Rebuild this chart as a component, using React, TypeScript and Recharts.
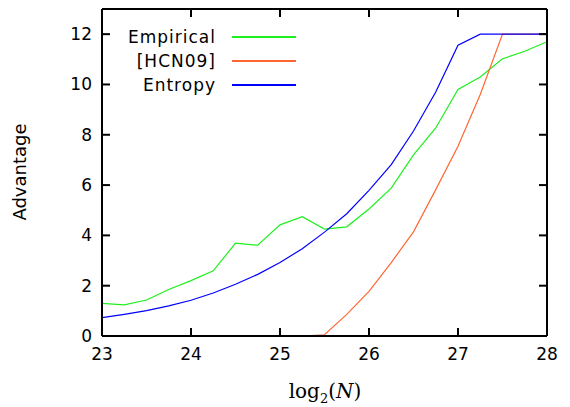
import { LineChart, Line, XAxis, YAxis } from 'recharts';

const log2N = [23, 23.25, 23.5, 23.75, 24, 24.25, 24.5, 24.75, 25, 25.25, 25.5, 25.75, 26, 26.25, 26.5, 26.75, 27, 27.25, 27.5, 27.75, 28];
const empirical = [1.3, 1.24, 1.43, 1.85, 2.2, 2.59, 3.69, 3.61, 4.42, 4.74, 4.25, 4.34, 5.05, 5.88, 7.2, 8.27, 9.8, 10.3, 11.02, 11.32, 11.7];
const hcn09 = [null, null, null, null, null, null, null, null, null, 0, 0.05, 0.86, 1.77, 2.92, 4.14, 5.82, 7.54, 9.6, 12, 12, 12];
const entropy = [0.73, 0.86, 1.01, 1.2, 1.42, 1.71, 2.06, 2.45, 2.92, 3.47, 4.13, 4.86, 5.79, 6.81, 8.15, 9.7, 11.56, 12, 12, 12, 12];

const xTicks = [23, 24, 25, 26, 27, 28];
const yTicks = [0, 2, 4, 6, 8, 10, 12];

const data = log2N.map((x, i) => ({
    x,
    empirical: empirical[i],
    hcn09: hcn09[i],
    entropy: entropy[i],
}));

// each series hangs on a different axis pair so that all four axes get drawn (same domains)
const SERIES = [
    { key: 'empirical', name: 'Empirical', color: '#1ef01e', xId: 'bottom', yId: 'right' },
    { key: 'hcn09', name: '[HCN09]', color: '#ff6633', xId: 'top', yId: 'left' },
    { key: 'entropy', name: 'Entropy', color: '#0000ff', xId: 'bottom', yId: 'left' },
];

const FONT = '"DejaVu Sans", sans-serif';
const TICK = 8;

const BottomTick = (props: any) => {
    const { x, y, payload } = props;
    return (
        <g>
            <line x1={x} y1={y} x2={x} y2={y - TICK} stroke="#000" strokeWidth={2} />
            <text x={x} y={y + 24} textAnchor="middle" fontSize={17} fontFamily={FONT} fill="#000">
                {payload.value}
            </text>
        </g>
    );
};

const TopTick = (props: any) => {
    const { x, y } = props;
    return <line x1={x} y1={y} x2={x} y2={y + TICK} stroke="#000" strokeWidth={2} />;
};

const LeftTick = (props: any) => {
    const { x, y, payload } = props;
    return (
        <g>
            <line x1={x} y1={y} x2={x + TICK} y2={y} stroke="#000" strokeWidth={2} />
            <text x={x - 10} y={y + 6} textAnchor="end" fontSize={17} fontFamily={FONT} fill="#000">
                {payload.value}
            </text>
        </g>
    );
};

const RightTick = (props: any) => {
    const { x, y } = props;
    return <line x1={x} y1={y} x2={x - TICK} y2={y} stroke="#000" strokeWidth={2} />;
};

const axisLine = { stroke: '#000', strokeWidth: 2 };

export default function App() {
    return (
        <div style={{ position: 'absolute', left: 0, top: 0, width: 570, height: 407, background: '#fff' }}>
            <LineChart width={570} height={407} data={data} margin={{ top: 8, right: 22, left: 0, bottom: 0 }}>
                <XAxis
                    xAxisId="bottom"
                    dataKey="x"
                    type="number"
                    domain={[23, 28]}
                    ticks={xTicks}
                    height={71}
                    tickSize={0}
                    tickMargin={0}
                    tick={<BottomTick />}
                    axisLine={axisLine}
                    tickLine={false}
                    interval={0}
                />
                <XAxis
                    xAxisId="top"
                    orientation="top"
                    dataKey="x"
                    type="number"
                    domain={[23, 28]}
                    ticks={xTicks}
                    height={1}
                    tickSize={0}
                    tickMargin={0}
                    tick={<TopTick />}
                    axisLine={axisLine}
                    tickLine={false}
                    interval={0}
                />
                <YAxis
                    yAxisId="left"
                    type="number"
                    domain={[0, 13]}
                    ticks={yTicks}
                    width={102}
                    tickSize={0}
                    tickMargin={0}
                    tick={<LeftTick />}
                    axisLine={axisLine}
                    tickLine={false}
                    interval={0}
                />
                <YAxis
                    yAxisId="right"
                    orientation="right"
                    type="number"
                    domain={[0, 13]}
                    ticks={yTicks}
                    width={1}
                    tickSize={0}
                    tickMargin={0}
                    tick={<RightTick />}
                    axisLine={axisLine}
                    tickLine={false}
                    interval={0}
                />
                {SERIES.map((s) => (
                    <Line
                        key={s.key}
                        xAxisId={s.xId}
                        yAxisId={s.yId}
                        dataKey={s.key}
                        name={s.name}
                        type="linear"
                        stroke={s.color}
                        strokeWidth={1.2}
                        dot={false}
                        activeDot={false}
                        isAnimationActive={false}
                        connectNulls={false}
                    />
                ))}
            </LineChart>

            {/* legend, inside the plot at top left */}
            <div style={{ position: 'absolute', left: 100, top: 25, fontFamily: FONT, fontSize: 17, letterSpacing: '1px' }}>
                {SERIES.map((s) => (
                    <div key={s.key} style={{ display: 'flex', alignItems: 'center', height: 24 }}>
                        <span style={{ width: 116, textAlign: 'right', color: '#000' }}>{s.name}</span>
                        <span style={{ display: 'inline-block', width: 64, height: 1.3, background: s.color, marginLeft: 16 }} />
                    </div>
                ))}
            </div>

            <div
                style={{
                    position: 'absolute',
                    left: 19,
                    top: 172,
                    transform: 'translate(-50%, -50%) rotate(-90deg)',
                    fontFamily: FONT,
                    fontSize: 18,
                    whiteSpace: 'nowrap',
                }}
            >
                Advantage
            </div>
            <div
                style={{
                    position: 'absolute',
                    left: 325,
                    top: 392,
                    transform: 'translate(-50%, -50%)',
                    fontFamily: '"DejaVu Serif", "Liberation Serif", serif',
                    fontSize: 20,
                    whiteSpace: 'nowrap',
                }}
            >
                log<sub style={{ fontSize: 13 }}>2</sub>(<i>N</i>)
            </div>
        </div>
    );
}
